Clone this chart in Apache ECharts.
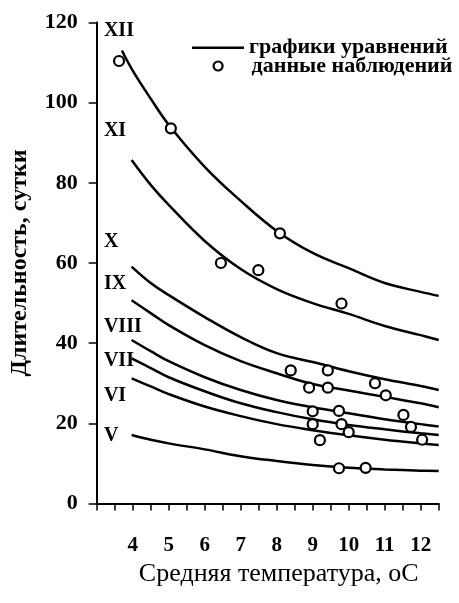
<!DOCTYPE html>
<html><head><meta charset="utf-8">
<script src="https://cdn.jsdelivr.net/npm/echarts@6/dist/echarts.min.js"></script>
<style>html,body{margin:0;padding:0;background:#fff}#c{width:459px;height:603px}</style>
</head><body><div id="c"></div>
<script>
// Curves (x = temperature, y = duration)
const curveXII  = [[3.7,113],[4,108],[4.5,101],[5,94.5],[6,84],[7,75.5],[8,68],[9,62.5],[10,58.7],[11,55],[12,52.8],[12.5,51.8]];
const curveXI   = [[3.97,85.7],[4.5,79.5],[5,74.5],[6,65.5],[7,58.5],[8,53.5],[9,50],[10,47.3],[11,44.3],[12,42],[12.5,40.8]];
const curveX    = [[3.97,59.1],[4.5,55],[5,52],[6,46.5],[7,41.5],[8,37.5],[9,35.3],[10,33],[11,31],[12,29.3],[12.5,28.3]];
const curveIX   = [[3.97,50.7],[4.5,47.5],[5,44.5],[6,39.5],[7,35.5],[8,32.5],[9,29.8],[10,28.2],[11,26.6],[12,25],[12.5,24]];
const curveVIII = [[3.97,40.8],[4.5,38],[5,35.5],[6,31.5],[7,28.3],[8,25.8],[9,24],[10,22.5],[11,21],[12,19.8],[12.5,19.2]];
const curveVII  = [[3.97,36.2],[4.5,33.8],[5,31.5],[6,28],[7,25],[8,22.8],[9,21],[10,19.6],[11,18.5],[12,17.5],[12.5,17.1]];
const curveVI   = [[3.97,31.2],[4.5,29.2],[5,27.3],[6,24.2],[7,21.8],[8,19.8],[9,18.3],[10,17],[11,15.9],[12,15],[12.5,14.6]];
const curveV    = [[3.97,17.1],[4.5,15.9],[5,15],[6,13.5],[7,11.8],[8,10.6],[9,9.6],[10,8.9],[11,8.5],[12,8.2],[12.5,8.1]];
const curves = [curveXII, curveXI, curveX, curveIX, curveVIII, curveVII, curveVI, curveV];

// Observations
const obsX = [3.62, 5.06, 6.45, 7.49, 8.09, 9.8, 8.39, 9.42, 10.73, 8.9, 9.42, 11.03, 9.0, 9.73, 11.52, 9.0, 9.8, 11.73, 10.0, 9.2, 12.04, 9.73, 10.47];
const obsY = [110.4, 93.6, 60.0, 58.2, 67.4, 49.9, 33.2, 33.2, 30.0, 28.9, 28.9, 27.0, 23.0, 23.1, 22.1, 19.8, 19.8, 19.1, 17.8, 15.8, 15.9, 8.8, 8.9];

// Curve labels
const romanNames = ['XII','XI','X','IX','VIII','VII','VI','V'];
const romanY = [118, 93, 65.3, 54.7, 44.2, 35.5, 26.9, 16.8];
const romanX = 3.2;

// Axis ticks
const xLabelMin = 4;

const LINE_NAME = 'графики уравнений';
const OBS_NAME = 'данные наблюдений';
const FONT = 'Liberation Serif';
const chart = echarts.init(document.getElementById('c'), null, {renderer:'canvas'});

const series = curves.map((c) => ({
  type:'line', name:LINE_NAME, data:c, smooth:0.4, symbol:'none', color:'#000',
  lineStyle:{color:'#000', width:2.5}, itemStyle:{color:'#000'}, silent:true, z:2
}));
series.push({
  type:'scatter', name:OBS_NAME,
  data: obsX.map((x,i)=>[x, obsY[i]]),
  symbol:'circle', symbolSize:10,
  itemStyle:{color:'#fff', borderColor:'#000', borderWidth:2.2, opacity:1}, z:5
});
series.push({
  type:'scatter', name:'labels',
  data: romanNames.map((n,i)=>[romanX, romanY[i], n]),
  symbolSize:0, silent:true, itemStyle:{opacity:1, color:'#000'},
  label:{show:true, position:'right', distance:0, formatter:p=>p.value[2],
    fontFamily:FONT, fontWeight:'bold', fontSize:20, color:'#000', opacity:1}
});

const legendText = {fontFamily:FONT, fontWeight:'bold', fontSize:22, color:'#000', lineHeight:20};
chart.setOption({
  animation:false,
  backgroundColor:'#fff',
  grid:{left:96.7, right:20.3, top:22.5, bottom:99.5, containLabel:false, outerBoundsMode:'none'},
  legend:[{
    left:192, top:36.7, padding:0, itemWidth:52, itemHeight:2.5, itemGap:0,
    textStyle:legendText, selectedMode:false,
    data:[{name:LINE_NAME, icon:'rect', itemStyle:{color:'#000', opacity:1}}]
  },{
    left:212.5, top:55, padding:0, itemWidth:9, itemHeight:9, itemGap:0,
    textStyle:Object.assign({}, legendText, {padding:[0,0,0,24]}), selectedMode:false,
    data:[{name:OBS_NAME, icon:'circle', itemStyle:{color:'#fff', borderColor:'#000', borderWidth:2.2}}]
  }],
  xAxis:{
    type:'value', min:3, max:12.5, interval:0.5,
    name:'Средняя температура, oC', nameLocation:'middle', nameGap:52,
    nameTextStyle:{fontFamily:FONT, fontSize:26, color:'#000', padding:[0,0,0,22]},
    axisLine:{lineStyle:{color:'#000', width:2}},
    axisTick:{length:7, lineStyle:{color:'#000', width:1.5}},
    axisLabel:{margin:32, fontFamily:FONT, fontWeight:'bold', fontSize:21, color:'#000',
      formatter:v=> (v>=xLabelMin && Math.abs(v-Math.round(v))<1e-9) ? String(Math.round(v)) : ''},
    splitLine:{show:false}
  },
  yAxis:{
    type:'value', min:0, max:120, interval:20,
    name:'Длительность, сутки', nameLocation:'middle', nameGap:64.5,
    nameTextStyle:{fontFamily:FONT, fontWeight:'bold', fontSize:24, color:'#000'},
    axisLine:{show:true, lineStyle:{color:'#000', width:2}},
    axisTick:{show:true, length:8, lineStyle:{color:'#000', width:1.5}},
    axisLabel:{margin:19, fontFamily:FONT, fontWeight:'bold', fontSize:22, color:'#000'},
    splitLine:{show:false}
  },
  series
});
</script></body></html>
